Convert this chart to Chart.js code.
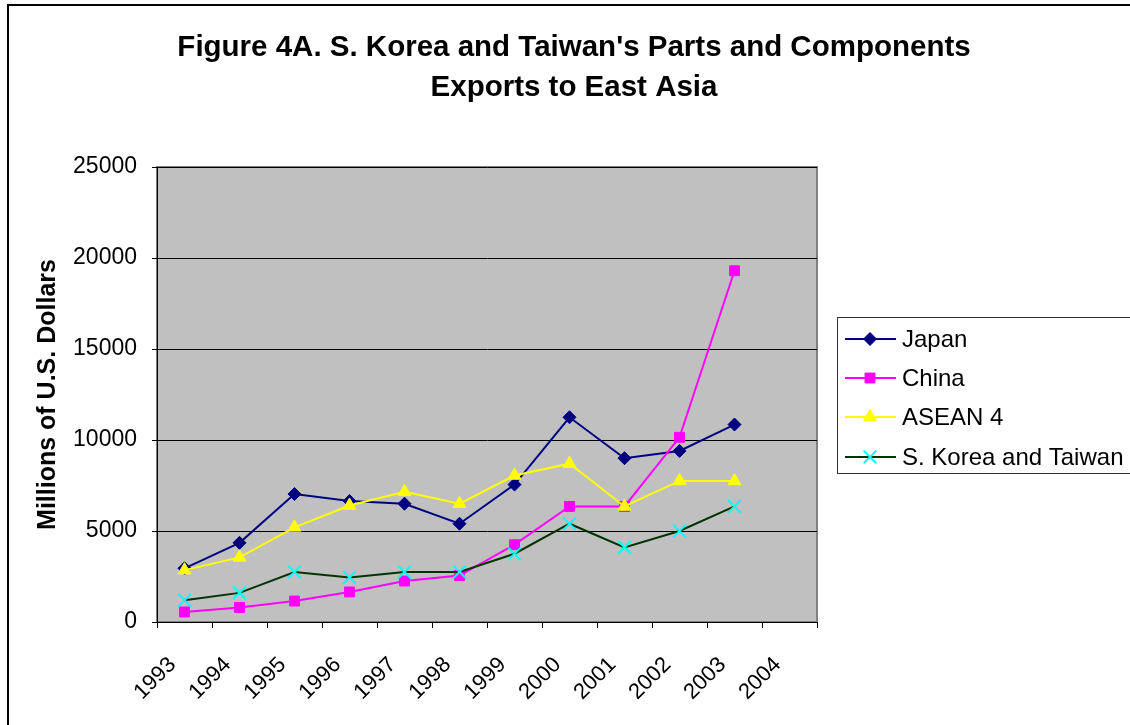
<!DOCTYPE html>
<html>
<head>
<meta charset="utf-8">
<script src="https://cdn.jsdelivr.net/npm/chart.js@4.4.1/dist/chart.umd.min.js"></script>
<style>
  html, body { margin: 0; padding: 0; background: #fff; }
  canvas { display: block; }
</style>
</head>
<body>
<canvas id="myChart" width="1130" height="725"></canvas>
<script>

const years = ['1993', '1994', '1995', '1996', '1997', '1998', '1999', '2000', '2001', '2002', '2003', '2004'];

// millions of US dollars (no value for 2004)
const japan       = [2950, 4350, 7030, 6650, 6500, 5400, 7550, 11250, 9000, 9400, 10850, null];
const china       = [550, 800, 1150, 1650, 2250, 2550, 4250, 6350, 6350, 10150, 19300, null];
const asean4      = [2850, 3550, 5200, 6400, 7150, 6500, 8050, 8700, 6350, 7750, 7750, null];
const koreaTaiwan = [1200, 1600, 2750, 2450, 2750, 2750, 3750, 5400, 4100, 5000, 6350, null];

const yMax = 25000;
const yStep = 5000;

Chart.defaults.font.family = '"Liberation Sans", Arial, sans-serif';
Chart.defaults.color = '#000';

// grey plot area + outer frame
const plotBackground = {
    id: 'plotBackground',
    beforeDraw(chart) {
        const {ctx, chartArea: a} = chart;
        ctx.save();
        ctx.fillStyle = '#fff';
        ctx.fillRect(0, 0, chart.width, chart.height);
        ctx.fillStyle = '#c0c0c0';
        ctx.fillRect(a.left, a.top, a.right - a.left, a.bottom - a.top);
        ctx.strokeStyle = '#808080';
        ctx.lineWidth = 2;
        ctx.strokeRect(a.left, a.top, a.right - a.left, a.bottom - a.top);
        ctx.strokeStyle = '#000';
        ctx.lineWidth = 2;
        ctx.strokeRect(8, 5, 1300, 900);
        ctx.restore();
    }
};

// legend with line + marker samples, in its own layout box on the right
const lineLegend = {
    id: 'lineLegend',
    beforeInit(chart) {
        const box = {
            position: 'right',
            weight: 10,
            fullSize: false,
            options: {},
            left: 0, top: 0, right: 0, bottom: 0, width: 0, height: 0,
            isHorizontal() { return false; },
            update(maxWidth, maxHeight) {
                this.width = 313;
                this.height = maxHeight;
            },
            draw() {
                const ctx = chart.ctx;
                const bx = 837, by = 317, bw = 400, bh = 156;
                ctx.save();
                ctx.fillStyle = '#fff';
                ctx.fillRect(bx, by, bw, bh);
                ctx.strokeStyle = '#333';
                ctx.lineWidth = 1;
                ctx.strokeRect(bx + 0.5, by + 0.5, bw, bh);
                const rows = [339, 378, 417, 457];
                chart.data.datasets.forEach((ds, i) => {
                    const y = rows[i];
                    ctx.strokeStyle = ds.borderColor;
                    ctx.lineWidth = 2;
                    ctx.beginPath();
                    ctx.moveTo(845, y);
                    ctx.lineTo(896, y);
                    ctx.stroke();
                    ctx.fillStyle = ds.pointBackgroundColor;
                    ctx.strokeStyle = ds.pointBorderColor;
                    ctx.lineWidth = ds.pointBorderWidth;
                    Chart.helpers.drawPoint(ctx, {
                        pointStyle: ds.pointStyle,
                        radius: ds.pointRadius,
                        rotation: 0,
                        borderWidth: ds.pointBorderWidth
                    }, 870, y);
                    ctx.fillStyle = '#000';
                    ctx.font = '24px "Liberation Sans", Arial, sans-serif';
                    ctx.textBaseline = 'middle';
                    ctx.textAlign = 'left';
                    ctx.fillText(ds.label, 902, y + 1);
                });
                ctx.restore();
            }
        };
        Chart.layouts.addBox(chart, box);
    }
};

const data = {
    labels: years,
    datasets: [{
        label: 'Japan',
        data: japan,
        borderColor: '#000080',
        pointBackgroundColor: '#000080',
        pointBorderColor: '#000080',
        pointStyle: 'rectRot',
        pointRadius: 6.5,
        pointBorderWidth: 1,
        order: 4,
    }, {
        label: 'China',
        data: china,
        borderColor: '#ff00ff',
        pointBackgroundColor: '#ff00ff',
        pointBorderColor: '#ff00ff',
        pointStyle: 'rect',
        pointRadius: 7,
        pointBorderWidth: 1,
        order: 3,
    }, {
        label: 'ASEAN 4',
        data: asean4,
        borderColor: '#ffff00',
        pointBackgroundColor: '#ffff00',
        pointBorderColor: '#ffff00',
        pointStyle: 'triangle',
        pointRadius: 7.5,
        pointBorderWidth: 1,
        order: 2,
    }, {
        label: 'S. Korea and Taiwan',
        data: koreaTaiwan,
        borderColor: '#003300',
        pointBackgroundColor: '#00ffff',
        pointBorderColor: '#00ffff',
        pointStyle: 'crossRot',
        pointRadius: 9,
        pointBorderWidth: 2,
        order: 1,
    }]
};

const options = {
    responsive: false,
    animation: false,
    devicePixelRatio: 1,
    layout: {
        padding: { left: 18, right: 0, top: 0, bottom: 0 }
    },
    elements: {
        line: { borderWidth: 2, tension: 0, fill: false },
        point: { hoverRadius: 7 }
    },
    plugins: {
        legend: { display: false },
        tooltip: { enabled: false },
        title: {
            display: true,
            text: ["Figure 4A. S. Korea and Taiwan's Parts and Components", 'Exports to East Asia'],
            color: '#000',
            font: { size: 29.5, weight: 'bold', lineHeight: '40px' },
            padding: { top: 28, bottom: 59 },
        },
    },
    scales: {
        x: {
            offset: true,
            grid: {
                display: true,
                offset: true,
                drawOnChartArea: false,
                drawTicks: true,
                tickLength: 6,
                color: '#000',
            },
            border: { display: true, color: '#000', width: 1 },
            ticks: {
                autoSkip: false,
                minRotation: 45,
                maxRotation: 45,
                padding: 24,
                labelOffset: -12,
                color: '#000',
                font: { size: 22 },
            },
            afterFit(scale) { scale.height = 103; }
        },
        y: {
            min: 0,
            max: yMax,
            grid: {
                color: '#000',
                drawTicks: true,
                tickLength: 5,
            },
            border: { display: true, color: '#000', width: 1 },
            ticks: {
                stepSize: yStep,
                padding: 15,
                color: '#000',
                font: { size: 23 },
                callback: (v) => String(v),
            },
            title: {
                display: true,
                text: 'Millions of U.S. Dollars',
                color: '#000',
                font: { size: 25, weight: 'bold' },
                padding: { top: 15, bottom: 0 },
            },
            afterFit(scale) { scale.width = 139; }
        }
    }
};

const config = {
    type: 'line',
    data: data,
    options: options,
    plugins: [plotBackground, lineLegend],
};

const myChart = new Chart(
    document.getElementById('myChart'),
    config
);

</script>
</body>
</html>
